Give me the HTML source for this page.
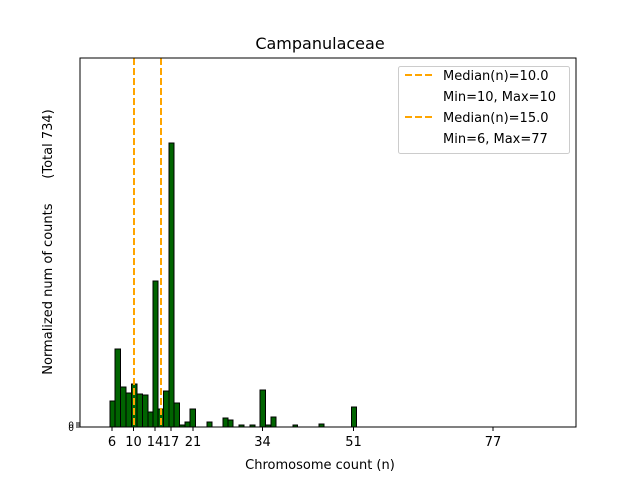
<!DOCTYPE html>
<html><head><style>body{margin:0;background:#fff}svg{display:block}text{font-family:"DejaVu Sans","Liberation Sans",sans-serif;fill:#000}</style></head>
<body>
<svg width="640" height="480" xmlns="http://www.w3.org/2000/svg">
<rect width="640" height="480" fill="#fff"/>
<g fill="#006400" stroke="#000" stroke-width="1">
<rect x="110" y="401" width="5" height="26"/>
<rect x="115" y="349" width="5.5" height="78"/>
<rect x="120.5" y="387" width="5.5" height="40"/>
<rect x="126" y="393" width="5.5" height="34"/>
<rect x="131.5" y="384" width="5.5" height="43"/>
<rect x="137" y="394" width="5.5" height="33"/>
<rect x="142.5" y="395" width="5.5" height="32"/>
<rect x="148" y="412" width="5" height="15"/>
<rect x="153" y="281" width="5" height="146"/>
<rect x="158" y="409" width="5.5" height="18"/>
<rect x="163.5" y="391" width="5.5" height="36"/>
<rect x="169" y="143" width="5" height="284"/>
<rect x="174" y="403" width="5.5" height="24"/>
<rect x="179.5" y="425" width="5.5" height="2"/>
<rect x="185" y="422" width="5" height="5"/>
<rect x="190" y="409" width="5.5" height="18"/>
<rect x="207" y="422" width="5" height="5"/>
<rect x="223" y="418" width="5" height="9"/>
<rect x="228" y="420" width="5" height="7"/>
<rect x="239" y="425" width="5" height="2"/>
<rect x="250" y="425" width="5" height="2"/>
<rect x="260" y="390" width="5.5" height="37"/>
<rect x="265.5" y="425" width="5" height="2"/>
<rect x="271" y="417" width="5" height="10"/>
<rect x="293" y="425" width="4.5" height="2"/>
<rect x="319" y="424" width="5" height="3"/>
<rect x="351.5" y="407" width="5" height="20"/>
</g>
<g stroke="#ffa500" stroke-width="2" stroke-dasharray="7,3">
<line x1="134" y1="58" x2="134" y2="427"/>
<line x1="161" y1="58" x2="161" y2="427"/>
</g>
<rect x="80" y="58" width="496" height="369" fill="none" stroke="#000" stroke-width="1"/>
<g stroke="#000" stroke-width="1">
<line x1="112" y1="427" x2="112" y2="431"/>
<line x1="133.5" y1="427" x2="133.5" y2="431"/>
<line x1="155" y1="427" x2="155" y2="431"/>
<line x1="171" y1="427" x2="171" y2="431"/>
<line x1="193" y1="427" x2="193" y2="431"/>
<line x1="262.5" y1="427" x2="262.5" y2="431"/>
<line x1="353.5" y1="427" x2="353.5" y2="431"/>
<line x1="493" y1="427" x2="493" y2="431"/>
<line x1="76" y1="427" x2="80" y2="427"/>
<line x1="76" y1="425" x2="80" y2="425"/>
<line x1="76" y1="423" x2="80" y2="423"/>
</g>
<g font-size="13" text-anchor="middle">
<text x="112" y="446">6</text>
<text x="133.5" y="446">10</text>
<text x="155" y="446">14</text>
<text x="171" y="446">17</text>
<text x="193" y="446">21</text>
<text x="262.5" y="446">34</text>
<text x="353.5" y="446">51</text>
<text x="493" y="446">77</text>
</g>
<g font-size="9" text-anchor="end"><text x="74" y="431">0</text><text x="74" y="428">0</text></g>
<text x="320" y="469" font-size="13" text-anchor="middle">Chromosome count (n)</text>
<text x="320" y="49" font-size="16" text-anchor="middle">Campanulaceae</text>
<text transform="translate(52,242) rotate(-90)" font-size="13" text-anchor="middle" xml:space="preserve">Normalized num of counts      (Total 734)</text>
<rect x="398.5" y="66.5" width="171" height="87" rx="2" fill="#fff" stroke="#ccc"/>
<g stroke="#ffa500" stroke-width="2" stroke-dasharray="7,3">
<line x1="405" y1="75" x2="433" y2="75"/>
<line x1="405" y1="117" x2="433" y2="117"/>
</g>
<g font-size="13">
<text x="443" y="80">Median(n)=10.0</text>
<text x="443" y="101">Min=10, Max=10</text>
<text x="443" y="122">Median(n)=15.0</text>
<text x="443" y="143">Min=6, Max=77</text>
</g>
</svg>
</body></html>
